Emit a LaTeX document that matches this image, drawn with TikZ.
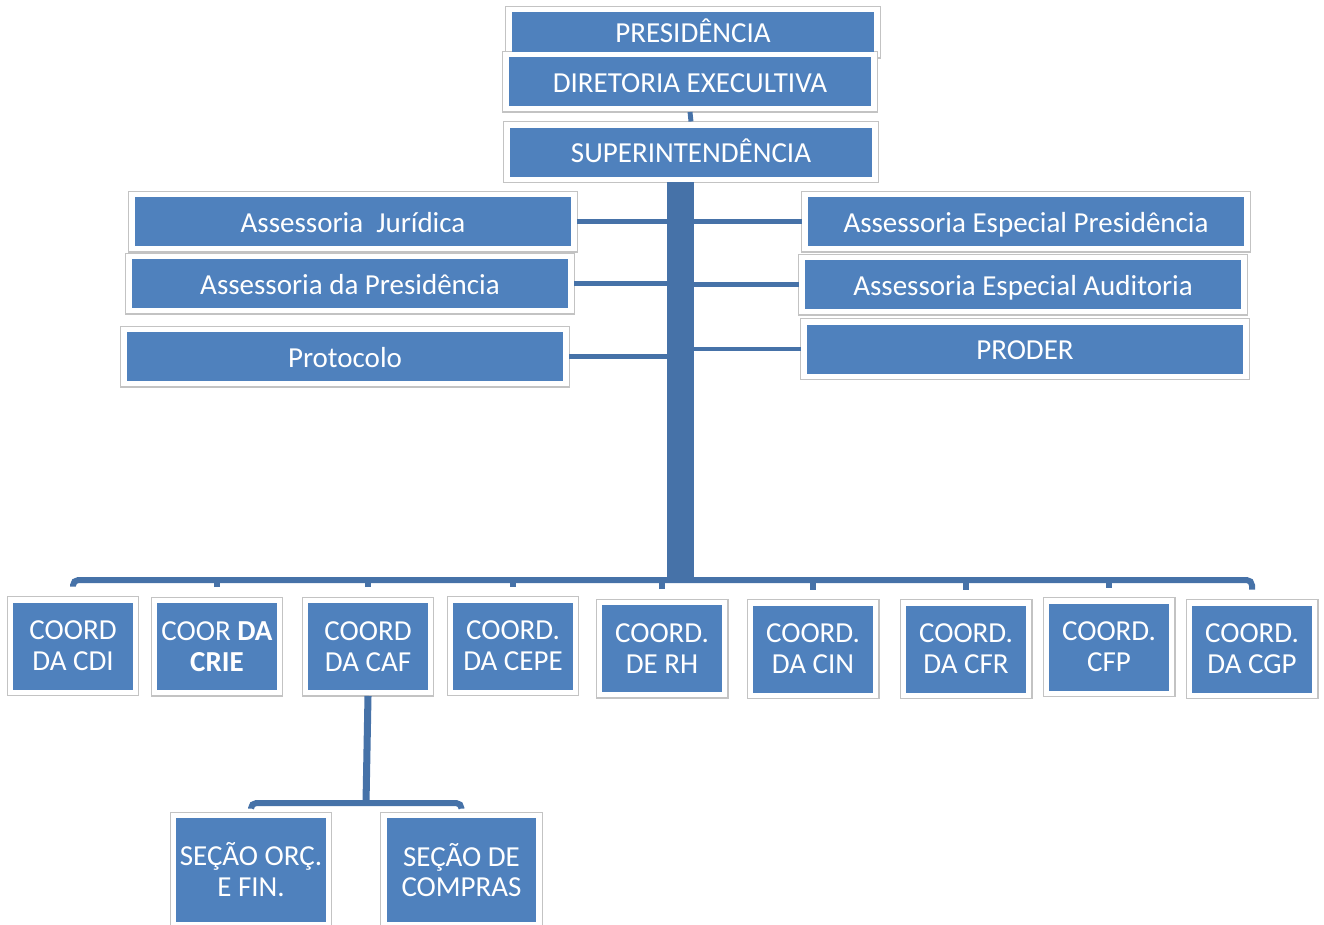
\documentclass[tikz,border=0pt]{standalone}
\usepackage{fontspec}
\setmainfont{Carlito}
\usetikzlibrary{backgrounds}
\definecolor{boxBlue}{RGB}{79,129,189}
\definecolor{lineBlue}{RGB}{70,114,168}
\definecolor{frameGray}{RGB}{195,195,195}
\tikzstyle{orgBox} = [fill=boxBlue, text=white, font=\fontsize{16.5}{17.6}\selectfont, align=center, inner sep=0pt, outer sep=3.4pt]
\tikzstyle{headBox} = [orgBox, minimum width=7.26cm, minimum height=0.98cm, text height=14pt, text depth=1.5pt]
\tikzstyle{wideBox} = [orgBox, minimum width=8.74cm, minimum height=0.98cm, text height=14pt, text depth=1.5pt]
\tikzstyle{coordBox} = [orgBox, minimum width=2.4cm, minimum height=1.74cm]
\tikzstyle{secBox} = [orgBox, minimum width=3cm, minimum height=2.08cm]
\tikzstyle{boxFrame} = [draw=frameGray, fill=white, line width=0.6pt]
\tikzstyle{trunk} = [lineBlue, line width=15.4pt]
\tikzstyle{branch} = [lineBlue, line width=2.8pt]
\tikzstyle{busLine} = [lineBlue, line width=3.4pt, rounded corners=3pt]

\begin{document}
\begin{tikzpicture}[x=0.02cm, y=-0.02cm]
      \useasboundingbox (0,0) rectangle (1324,924);
      \node[headBox, minimum height=0.8cm] (pres) at (693,32) {PRESIDÊNCIA};
      \node[headBox] (dir) at (690,81.5) {DIRETORIA EXECULTIVA};
      \node[headBox] (sup) at (691,152) {SUPERINTENDÊNCIA};
      \node[wideBox] (jur) at (353,221.5) {Assessoria\ \ Jurídica};
      \node[wideBox] (apres) at (350,283.5) {Assessoria da Presidência};
      \node[wideBox] (prot) at (345,356.5) {Protocolo};
      \node[wideBox] (aep) at (1026,221.5) {Assessoria Especial Presidência};
      \node[wideBox] (aea) at (1023,284.5) {Assessoria Especial Auditoria};
      \node[wideBox] (proder) at (1025,349) {PRODER};
      \node[coordBox] (cdi) at (73,646) {COORD\\DA CDI};
      \node[coordBox] (crie) at (217,646.5) {COOR \textbf{DA}\\\textbf{CRIE}};
      \node[coordBox] (caf) at (368,646.5) {COORD\\DA CAF};
      \node[coordBox] (cepe) at (513,646) {COORD.\\DA CEPE};
      \node[coordBox] (rh) at (662,648.5) {COORD.\\DE RH};
      \node[coordBox] (cin) at (813,649) {COORD.\\DA CIN};
      \node[coordBox] (cfr) at (966,649) {COORD.\\DA CFR};
      \node[coordBox] (cfp) at (1109,647) {COORD.\\CFP};
      \node[coordBox] (cgp) at (1252,649) {COORD.\\DA CGP};
      \node[secBox] (orc) at (251,870) {SEÇÃO ORÇ.\\E FIN.};
      \node[secBox] (comp) at (461.5,870) {SEÇÃO DE\\COMPRAS};
      \begin{scope}[on background layer]
        \foreach \n in {pres,dir,sup,jur,apres,prot,aep,aea,proder,cdi,crie,caf,cepe,rh,cin,cfr,cfp,cgp,orc,comp}
          \draw[boxFrame] (\n.south west) rectangle (\n.north east);
      \end{scope}
      \coordinate (bus) at (680.5,580);
      \coordinate (sub) at (366,803);
      \draw[branch] (dir.south) -- (sup.north);
      \draw[trunk] (sup.south -| bus) -- (bus);
      \foreach \n in {jur,apres,prot}
        \draw[branch] (\n.east) -- (\n.east -| bus);
      \foreach \n in {aep,aea,proder}
        \draw[branch] (\n.west) -- (\n.west -| bus);
      \draw[busLine, shorten <=5.7pt, shorten >=5.7pt] (cdi.north) -- (cdi.north |- bus) -- (cgp.north |- bus) -- (cgp.north);
      \foreach \n in {crie,caf,cepe,rh,cin,cfr,cfp}
        \draw[busLine, shorten <=5.7pt] (\n.north) -- (\n.north |- bus);
      \draw[busLine, line width=4pt] (caf.south) -- (sub);
      \draw[busLine, shorten <=2pt, shorten >=2pt] (orc.north) -- (orc.north |- sub) -- (comp.north |- sub) -- (comp.north);
    \end{tikzpicture}
\end{document}
